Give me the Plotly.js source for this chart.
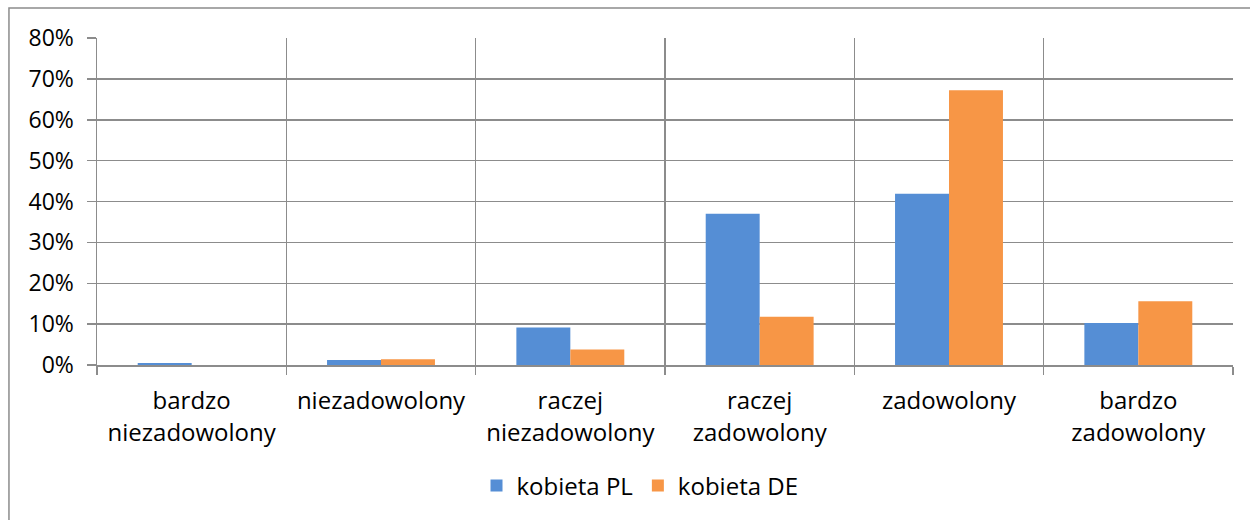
<!DOCTYPE html>
<html>
<head>
<meta charset="utf-8">
<script src="https://cdn.plot.ly/plotly-3.0.1.min.js"></script>
<style>html,body{margin:0;padding:0;background:#fff;}#chart{width:1250px;height:520px;}</style>
</head>
<body>
<div id="chart"></div>
<script>
var categories = ["bardzo<br>niezadowolony", "niezadowolony", "raczej<br>niezadowolony", "raczej<br>zadowolony", "zadowolony", "bardzo<br>zadowolony"];
var seriesNames = ["kobieta PL", "kobieta DE"];
var valuesPL = [0.005, 0.012, 0.092, 0.370, 0.419, 0.103];
var valuesDE = [0.000, 0.014, 0.038, 0.118, 0.672, 0.156];
var yTickVals = [0, 0.1, 0.2, 0.3, 0.4, 0.5, 0.6, 0.7, 0.8];

var fontFam = "'Open Sans', sans-serif";
var gridCol = "#8c8c8c";

var traces = [
  {type: "bar", name: seriesNames[0], x: categories, y: valuesPL, marker: {color: "#558ed5"}, hoverinfo: "none"},
  {type: "bar", name: seriesNames[1], x: categories, y: valuesDE, marker: {color: "#f79646"}, hoverinfo: "none"}
];

var layout = {
  width: 1250, height: 520,
  margin: {l: 97, r: 17, t: 38, b: 155, pad: 0},
  paper_bgcolor: "#fff", plot_bgcolor: "#fff",
  barmode: "group", bargap: 0.43, bargroupgap: 0,
  font: {family: fontFam, size: 23, color: "#000"},
  showlegend: true,
  legend: {orientation: "h", x: 0.478, xanchor: "center", y: -0.37, yanchor: "middle",
           font: {family: fontFam, size: 24, color: "#000"}, itemwidth: 30, tracegroupgap: 0},
  xaxis: {
    type: "category", tickson: "boundaries", showgrid: true, gridcolor: gridCol, gridwidth: 1.5,
    ticks: "outside", ticklen: 8, tickcolor: gridCol, tickwidth: 1.5,
    showline: true, linecolor: gridCol, linewidth: 1.5, mirror: false,
    tickfont: {family: fontFam, size: 24, color: "#000"}, ticklabelstandoff: 14,
    range: [-0.5, 5.5], fixedrange: true
  },
  yaxis: {
    range: [0, 0.8], tickvals: yTickVals, tickformat: ".0%",
    showgrid: true, gridcolor: gridCol, gridwidth: 1.5,
    ticks: "outside", ticklen: 9, tickcolor: gridCol, tickwidth: 1.5,
    showline: true, linecolor: gridCol, linewidth: 1.5,
    zeroline: false, ticklabelstandoff: 8,
    tickfont: {family: fontFam, size: 23, color: "#000"}, fixedrange: true
  },
  shapes: [
    {type: "rect", xref: "paper", yref: "paper", x0: -0.0775, x1: 1.03, y0: -0.52, y1: 1.0917,
     line: {color: "#8c8c8c", width: 1.5}, fillcolor: "rgba(0,0,0,0)", layer: "below"}
  ]
};

Plotly.newPlot("chart", traces, layout, {displayModeBar: false, staticPlot: true});
</script>
</body>
</html>
